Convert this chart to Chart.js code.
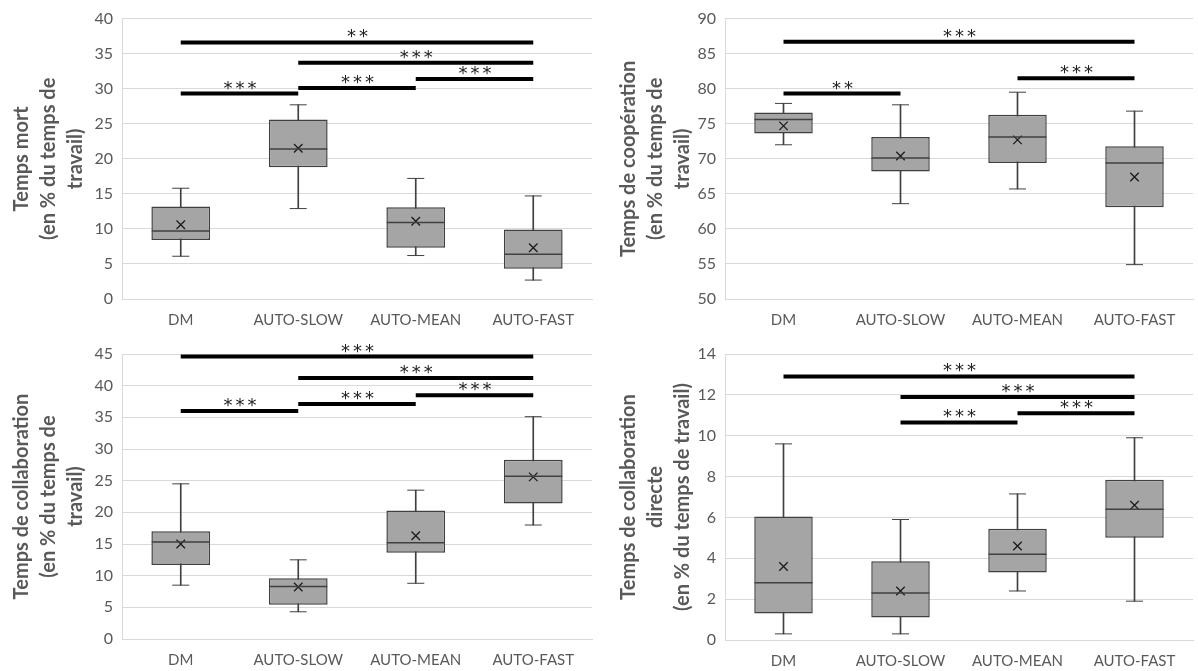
<!DOCTYPE html>
<html>
<head>
<meta charset="utf-8">
<script src="https://cdn.jsdelivr.net/npm/chart.js@4.4.1/dist/chart.umd.min.js"></script>
<style>
  body { margin: 0; background: #fff; }
  .panel { position: absolute; }
</style>
</head>
<body>
<div class="panel" style="left:0;top:0"><canvas id="mort" width="600" height="335"></canvas></div>
<div class="panel" style="left:600px;top:0"><canvas id="coop" width="598" height="335"></canvas></div>
<div class="panel" style="left:0;top:335px"><canvas id="collab" width="600" height="336"></canvas></div>
<div class="panel" style="left:600px;top:335px"><canvas id="direct" width="598" height="336"></canvas></div>
<script>
const categories = ['DM', 'AUTO-SLOW', 'AUTO-MEAN', 'AUTO-FAST'];

// Temps mort
const mortMin = [6.1, 12.9, 6.2, 2.7];
const mortQ1 = [8.4, 18.8, 7.3, 4.3];
const mortMed = [9.7, 21.4, 10.9, 6.4];
const mortQ3 = [13.2, 25.6, 13.1, 9.9];
const mortMax = [15.8, 27.7, 17.2, 14.7];
const mortMean = [10.6, 21.5, 11.1, 7.3];
const mortSig = [[0, 3, 36.6, '**'], [1, 3, 33.7, '***'], [2, 3, 31.4, '***'], [1, 2, 30.1, '***'], [0, 1, 29.3, '***']];

// Temps de coopération
const coopMin = [72.0, 63.6, 65.7, 54.9];
const coopQ1 = [73.6, 68.2, 69.4, 63.1];
const coopMed = [75.6, 70.1, 73.1, 69.4];
const coopQ3 = [76.6, 73.1, 76.3, 71.8];
const coopMax = [77.9, 77.7, 79.5, 76.8];
const coopMean = [74.7, 70.4, 72.7, 67.4];
const coopSig = [[0, 3, 86.7, '***'], [2, 3, 81.5, '***'], [0, 1, 79.3, '**']];

// Temps de collaboration
const collabMin = [8.5, 4.3, 8.8, 18.0];
const collabQ1 = [11.7, 5.4, 13.6, 21.4];
const collabMed = [15.3, 8.3, 15.2, 25.7];
const collabQ3 = [17.0, 9.6, 20.3, 28.3];
const collabMax = [24.5, 12.5, 23.5, 35.1];
const collabMean = [15.0, 8.2, 16.3, 25.6];
const collabSig = [[0, 3, 44.6, '***'], [1, 3, 41.2, '***'], [2, 3, 38.5, '***'], [1, 2, 37.1, '***'], [0, 1, 36.0, '***']];

// Temps de collaboration directe
const directMin = [0.3, 0.3, 2.4, 1.9];
const directQ1 = [1.3, 1.1, 3.3, 5.0];
const directMed = [2.8, 2.3, 4.2, 6.4];
const directQ3 = [6.05, 3.85, 5.45, 7.85];
const directMax = [9.6, 5.9, 7.15, 9.9];
const directMean = [3.6, 2.4, 4.6, 6.6];
const directSig = [[0, 3, 12.9, '***'], [1, 3, 11.9, '***'], [2, 3, 11.1, '***'], [1, 2, 10.65, '***']];

Chart.defaults.font.family = 'Lato';
Chart.defaults.color = '#595959';

const EDGE = '#404040';

// barres de significativité + étoiles
const sigPlugin = {
    id: 'sig',
    afterDatasetsDraw(chart, args, opts) {
        const { ctx, scales: { x, y } } = chart;
        ctx.save();
        ctx.strokeStyle = '#000';
        ctx.lineWidth = 4;
        ctx.fillStyle = '#222';
        ctx.font = '18px "DejaVu Sans"';
        ctx.textAlign = 'center';
        ctx.textBaseline = 'alphabetic';
        ctx.letterSpacing = '3px';
        for (const [a, b, v, stars] of opts.pairs) {
            const x1 = x.getPixelForValue(a);
            const x2 = x.getPixelForValue(b);
            const yy = y.getPixelForValue(v);
            ctx.beginPath();
            ctx.moveTo(x1, yy);
            ctx.lineTo(x2, yy);
            ctx.stroke();
            ctx.fillText(stars, (x1 + x2) / 2 + 2, yy);
        }
        ctx.restore();
    }
};

function pointSet(data, style, radius, width) {
    return {
        type: 'line', data: data, showLine: false, order: 1,
        pointStyle: style, pointRadius: radius, pointBorderColor: style == 'crossRot' ? '#1a1a1a' : EDGE,
        pointBorderWidth: width, pointBackgroundColor: 'transparent'
    };
}

function boxChart(id, p) {
    const lo = p.lo, q1 = p.q1, q3 = p.q3, hi = p.hi;
    new Chart(document.getElementById(id), {
        type: 'bar',
        data: {
            labels: categories,
            datasets: [
                {   // moustaches
                    data: lo.map((v, i) => [v, hi[i]]),
                    backgroundColor: EDGE, barThickness: 1, grouped: false, order: 3
                },
                {   // boîtes
                    data: q1.map((v, i) => [v, q3[i]]),
                    backgroundColor: '#a5a5a5', borderColor: EDGE, borderWidth: 1.5,
                    borderSkipped: false, barPercentage: 0.5, categoryPercentage: 1,
                    grouped: false, order: 2
                },
                pointSet(hi, 'line', 8.5, 1),
                pointSet(lo, 'line', 8.5, 1),
                pointSet(p.med, 'line', 29, 1.5),
                pointSet(p.mean, 'crossRot', 6, 1.3)
            ]
        },
        options: {
            responsive: false,
            animation: false,
            events: [],
            layout: { autoPadding: false, padding: { left: 0, right: p.right, top: p.top, bottom: 0 } },
            scales: {
                x: {
                    grid: { display: false, drawTicks: false },
                    border: { display: true, color: '#d9d9d9' },
                    ticks: { font: { size: 15 }, padding: 12, color: '#595959' },
                    afterFit: s => { s.height = p.xh; }
                },
                y: {
                    min: p.min, max: p.max,
                    grid: { color: '#d9d9d9', drawTicks: false },
                    border: { display: true, color: '#d9d9d9' },
                    ticks: { stepSize: p.step, font: { size: 16 }, padding: 9, color: '#595959' },
                    title: {
                        display: true, text: p.title, color: '#595959',
                        font: { size: 20, weight: 'bold', lineHeight: 1.35 },
                        padding: { top: p.tpad, bottom: 0 }
                    },
                    afterFit: s => { s.width = p.yw; }
                }
            },
            plugins: {
                legend: { display: false },
                tooltip: { enabled: false },
                sig: { pairs: p.sig }
            }
        },
        plugins: [sigPlugin]
    });
}

boxChart('mort', {
    lo: mortMin, q1: mortQ1, med: mortMed, q3: mortQ3, hi: mortMax, mean: mortMean, sig: mortSig,
    min: 0, max: 40, step: 5,
    title: ['Temps mort', '(en % du temps de', 'travail)'],
    yw: 122, xh: 36, top: 15, right: 8, tpad: 8
});
boxChart('coop', {
    lo: coopMin, q1: coopQ1, med: coopMed, q3: coopQ3, hi: coopMax, mean: coopMean, sig: coopSig,
    min: 50, max: 90, step: 5,
    title: ['Temps de coopération', '(en % du temps de', 'travail)'],
    yw: 125, xh: 36, top: 15, right: 5, tpad: 15
});
boxChart('collab', {
    lo: collabMin, q1: collabQ1, med: collabMed, q3: collabQ3, hi: collabMax, mean: collabMean, sig: collabSig,
    min: 0, max: 45, step: 5,
    title: ['Temps de collaboration', '(en % du temps de', 'travail)'],
    yw: 122, xh: 32, top: 19, right: 8, tpad: 8
});
boxChart('direct', {
    lo: directMin, q1: directQ1, med: directMed, q3: directQ3, hi: directMax, mean: directMean, sig: directSig,
    min: 0, max: 14, step: 2,
    title: ['Temps de collaboration', 'directe', '(en % du temps de travail)'],
    yw: 125, xh: 31, top: 19, right: 5, tpad: 15
});
</script>
</body>
</html>
